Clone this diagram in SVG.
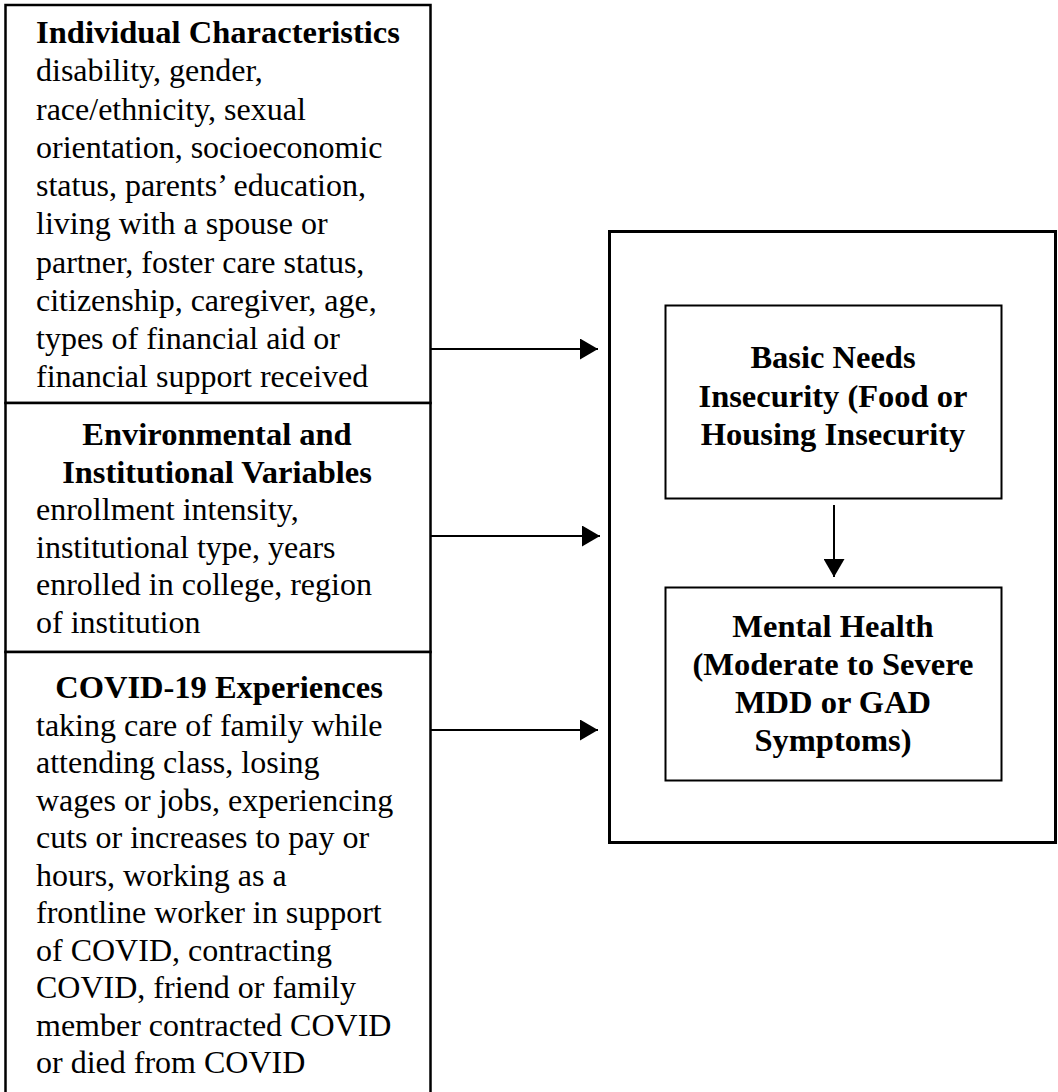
<svg xmlns="http://www.w3.org/2000/svg" width="1058" height="1092" viewBox="0 0 1058 1092">
<style>
.box{fill:#fff;stroke:#000;stroke-width:2.5}
.outer{fill:#fff;stroke:#000;stroke-width:3}
.inner{fill:#fff;stroke:#000;stroke-width:2}
.t{font-family:"Liberation Serif","Times New Roman",serif;fill:#000}
.b{font-size:32.5px;font-weight:bold;text-anchor:middle}
.r{font-size:32px}
.conn{stroke:#000;stroke-width:2;fill:none}
</style>
<defs>
<marker id="ah" markerUnits="userSpaceOnUse" markerWidth="18" markerHeight="21" refX="18" refY="10.5" orient="auto">
<path d="M0,0 L18,10.5 L0,21 z" fill="#000"/>
</marker>
</defs>
<rect width="1058" height="1092" fill="#fff"/>
<g id="individual">
<rect class="box" x="5.5" y="5" width="425" height="398"/>
<text class="t b" x="218" y="43">Individual Characteristics</text>
<text class="t r" x="36" y="81">disability, gender,</text>
<text class="t r" x="36" y="120">race/ethnicity, sexual</text>
<text class="t r" x="36" y="158">orientation, socioeconomic</text>
<text class="t r" x="36" y="196">status, parents’ education,</text>
<text class="t r" x="36" y="234">living with a spouse or</text>
<text class="t r" x="36" y="273">partner, foster care status,</text>
<text class="t r" x="36" y="311">citizenship, caregiver, age,</text>
<text class="t r" x="36" y="349">types of financial aid or</text>
<text class="t r" x="36" y="387">financial support received</text>
</g>
<g id="environmental">
<rect class="box" x="5.5" y="403" width="425" height="249"/>
<text class="t b" x="217" y="445">Environmental and</text>
<text class="t b" x="217" y="482.5">Institutional Variables</text>
<text class="t r" x="36" y="520">enrollment intensity,</text>
<text class="t r" x="36" y="557.5">institutional type, years</text>
<text class="t r" x="36" y="595">enrolled in college, region</text>
<text class="t r" x="36" y="632.5">of institution</text>
</g>
<g id="covid">
<rect class="box" x="5.5" y="652" width="425" height="460"/>
<text class="t b" x="219" y="698">COVID-19 Experiences</text>
<text class="t r" x="36" y="735.5">taking care of family while</text>
<text class="t r" x="36" y="773">attending class, losing</text>
<text class="t r" x="36" y="810.5">wages or jobs, experiencing</text>
<text class="t r" x="36" y="848">cuts or increases to pay or</text>
<text class="t r" x="36" y="885.5">hours, working as a</text>
<text class="t r" x="36" y="923">frontline worker in support</text>
<text class="t r" x="36" y="960.5">of COVID, contracting</text>
<text class="t r" x="36" y="998">COVID, friend or family</text>
<text class="t r" x="36" y="1035.5">member contracted COVID</text>
<text class="t r" x="36" y="1073">or died from COVID</text>
</g>
<g id="outcomes">
<rect class="outer" x="609.5" y="231.5" width="446" height="611"/>
</g>
<g id="basic-needs">
<rect class="inner" x="665.5" y="305.5" width="336" height="193"/>
<text class="t b" x="833" y="368">Basic Needs</text>
<text class="t b" x="833" y="406.5">Insecurity (Food or</text>
<text class="t b" x="833" y="445">Housing Insecurity</text>
</g>
<g id="mental-health">
<rect class="inner" x="665.5" y="587.5" width="336" height="193"/>
<text class="t b" x="833" y="637">Mental Health</text>
<text class="t b" x="833" y="675">(Moderate to Severe</text>
<text class="t b" x="833" y="713">MDD or GAD</text>
<text class="t b" x="833" y="751">Symptoms)</text>
</g>
<g id="connectors">
<line class="conn" x1="431" y1="349" x2="598" y2="349" marker-end="url(#ah)"/>
<line class="conn" x1="431" y1="536" x2="600" y2="536" marker-end="url(#ah)"/>
<line class="conn" x1="431" y1="730" x2="598" y2="730" marker-end="url(#ah)"/>
<line class="conn" x1="834" y1="505" x2="834" y2="577" marker-end="url(#ah)"/>
</g>
</svg>
